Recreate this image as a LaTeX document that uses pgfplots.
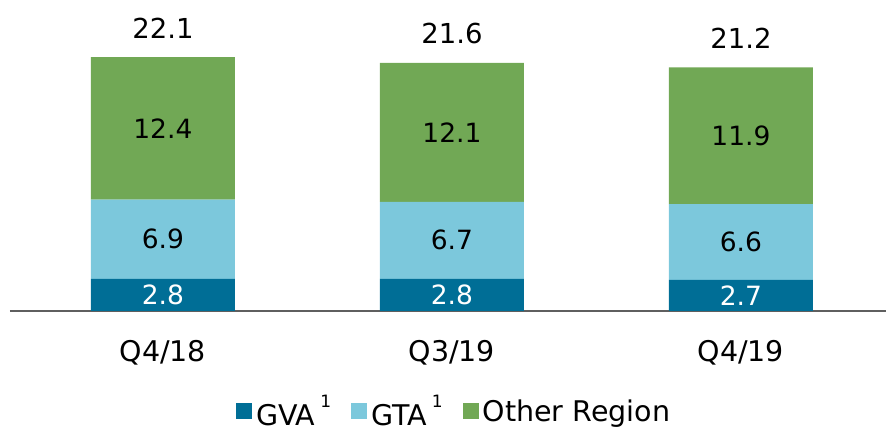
\documentclass[border=0pt]{standalone}
\usepackage{pgfplots}
\pgfplotsset{compat=1.18}
\usepackage{fontspec}
\setmainfont{DejaVu Sans}
\definecolor{gva}{RGB}{0,110,150}
\definecolor{gta}{RGB}{124,200,220}
\definecolor{oth}{RGB}{113,168,85}
\definecolor{axl}{RGB}{95,95,95}
\newcommand{\lblfont}{\fontsize{26.5}{30}\selectfont}
\newcommand{\totfont}{\fontsize{27.5}{30}\selectfont}
\newcommand{\tckfont}{\fontsize{28.5}{32}\selectfont}
\newcommand{\supone}{\kern5pt\raisebox{0.62em}{\fontsize{17}{17}\selectfont 1}}
\pgfplotsset{
  common/.style={
    scale only axis, width=876pt, height=311pt,
    at={(10pt,119pt)}, anchor=south west,
    xmin=-0.529, xmax=2.502, ymin=0, ymax=27.07,
    enlargelimits=false, clip=false,
  }
}
\begin{document}
\begin{tikzpicture}
\useasboundingbox (0,0) rectangle (886pt,430pt);
\begin{axis}[common,
  ybar stacked, bar width=144pt,
  axis y line=none, axis x line*=bottom,
  x axis line style={axl, line width=2pt, -},
  xtick={0,1,2}, xticklabels={Q4/18,Q3/19,Q4/19},
  major tick length=0pt,
  xticklabel style={font=\tckfont, yshift=-26pt},
  legend columns=3,
  legend style={at={(0.507,-0.322)}, anchor=center, draw=none, fill=none,
    font=\tckfont, /tikz/every even column/.append style={column sep=18pt},
    /tikz/every odd column/.append style={column sep=2pt}},
  legend image code/.code={\draw[#1,draw=none] (0pt,-8pt) rectangle (16pt,8pt);},
]
\addplot[fill=gva, draw=none] coordinates {(0,2.8) (1,2.8) (2,2.7)};
\addplot[fill=gta, draw=none] coordinates {(0,6.9) (1,6.7) (2,6.6)};
\addplot[fill=oth, draw=none] coordinates {(0,12.4) (1,12.1) (2,11.9)};
\legend{GVA\supone,GTA\supone,Other Region}
\end{axis}
\begin{axis}[common, hide axis,
  nodes near coords, point meta=explicit symbolic,
  every node near coord/.append style={anchor=center, font=\lblfont},
]
% totals
\addplot[draw=none, mark=none, every node near coord/.append style={yshift=29pt, font=\totfont}]
  coordinates {(0,22.1)[22.1] (1,21.6)[21.6] (2,21.2)[21.2]};
% GVA labels at segment middles
\addplot[draw=none, mark=none, every node near coord/.append style={text=white}]
  coordinates {(0,1.4)[2.8] (1,1.4)[2.8] (2,1.35)[2.7]};
% GTA labels
\addplot[draw=none, mark=none]
  coordinates {(0,6.25)[6.9] (1,6.15)[6.7] (2,6.0)[6.6]};
% Other labels
\addplot[draw=none, mark=none]
  coordinates {(0,15.9)[12.4] (1,15.55)[12.1] (2,15.25)[11.9]};
\end{axis}
\end{tikzpicture}
\end{document}
